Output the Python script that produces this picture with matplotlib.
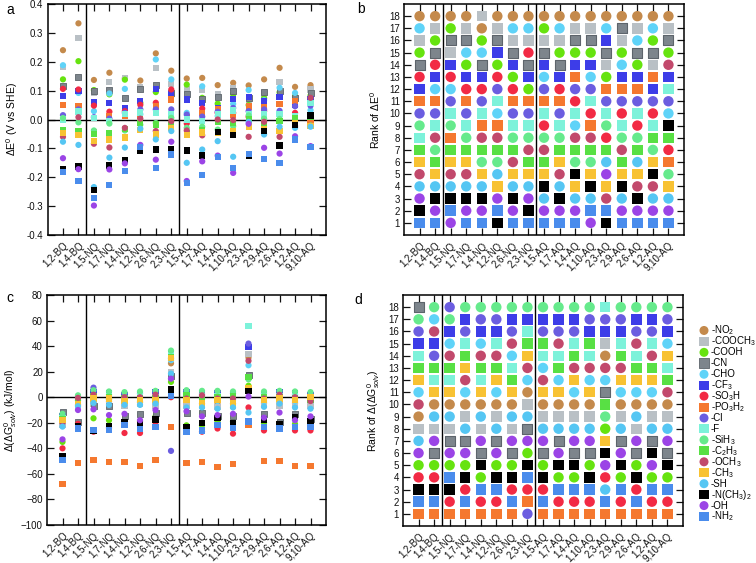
import matplotlib
matplotlib.use('Agg')
import matplotlib.pyplot as plt

plt.rcParams['font.family'] = ['Liberation Sans', 'DejaVu Sans']
plt.rcParams['mathtext.fontset'] = 'custom'
plt.rcParams['mathtext.rm'] = 'Liberation Sans'
plt.rcParams['mathtext.it'] = 'Liberation Sans:italic'
plt.rcParams['mathtext.bf'] = 'Liberation Sans:bold'

# ---------------- data ----------------
molecules = ['1,2-BQ', '1,4-BQ', '1,5-NQ', '1,7-NQ', '1,4-NQ', '1,2-NQ', '2,6-NQ', '2,3-NQ',
             '1,5-AQ', '1,7-AQ', '1,4-AQ', '1,10-AQ', '2,3-AQ', '2,9-AQ', '2,6-AQ', '1,2-AQ', '9,10-AQ']

subs = ['NO2', 'COOCH3', 'COOH', 'CN', 'CHO', 'CF3', 'SO3H', 'PO3H2', 'Cl', 'F',
        'SiH3', 'C2H3', 'OCH3', 'CH3', 'SH', 'NMe2', 'OH', 'NH2']
sub_labels = ['-NO$_2$', '-COOCH$_3$', '-COOH', '-CN', '-CHO', '-CF$_3$', '-SO$_3$H', '-PO$_3$H$_2$',
              '-Cl', '-F', '-SiH$_3$', '-C$_2$H$_3$', '-OCH$_3$', '-CH$_3$', '-SH', '-N(CH$_3$)$_2$',
              '-OH', '-NH$_2$']
sub_colors = ['#c48a4c', '#b9c0c5', '#66e30f', '#7d858c', '#5fd3f8', '#3d3de8', '#f22a44', '#f5782f',
              '#6b5de0', '#7df2da', '#66ea8c', '#58e044', '#c2496c', '#f8c233', '#55c6f3', '#000000',
              '#9b44e6', '#4a8cec']
sub_markers = ['o', 's'] * 9

# rank order (rank 1 -> rank 18) of substituents for each molecule, panel b (Delta E0)
rank_E = [
    ['NH2', 'NMe2', 'OH', 'SH', 'OCH3', 'CH3', 'C2H3', 'F', 'SiH3', 'Cl', 'PO3H2', 'CF3', 'SO3H', 'CN', 'COOH', 'COOCH3', 'CHO', 'NO2'],
    ['NH2', 'OH', 'NMe2', 'SH', 'CH3', 'C2H3', 'SiH3', 'OCH3', 'F', 'Cl', 'PO3H2', 'CHO', 'CF3', 'SO3H', 'CN', 'COOH', 'COOCH3', 'NO2'],
    ['OH', 'NH2', 'NMe2', 'SH', 'OCH3', 'CH3', 'C2H3', 'PO3H2', 'SiH3', 'F', 'Cl', 'CHO', 'SO3H', 'CF3', 'COOCH3', 'CN', 'COOH', 'NO2'],
    ['NH2', 'OH', 'NMe2', 'SH', 'OCH3', 'CH3', 'C2H3', 'SiH3', 'F', 'Cl', 'PO3H2', 'SO3H', 'CF3', 'COOH', 'CHO', 'CN', 'COOCH3', 'NO2'],
    ['NH2', 'OH', 'NMe2', 'SH', 'CH3', 'SiH3', 'C2H3', 'OCH3', 'PO3H2', 'F', 'Cl', 'SO3H', 'CF3', 'CN', 'CHO', 'COOH', 'NO2', 'COOCH3'],
    ['NMe2', 'NH2', 'OH', 'CH3', 'SH', 'SiH3', 'C2H3', 'OCH3', 'PO3H2', 'CHO', 'F', 'Cl', 'SO3H', 'COOH', 'CF3', 'CN', 'COOCH3', 'NO2'],
    ['NH2', 'OH', 'NMe2', 'SH', 'CH3', 'OCH3', 'C2H3', 'SiH3', 'F', 'Cl', 'PO3H2', 'SO3H', 'COOH', 'CF3', 'CN', 'COOCH3', 'CHO', 'NO2'],
    ['NH2', 'NMe2', 'OH', 'SH', 'CH3', 'C2H3', 'OCH3', 'SiH3', 'F', 'Cl', 'PO3H2', 'COOH', 'CF3', 'CN', 'SO3H', 'COOCH3', 'CHO', 'NO2'],
    ['NH2', 'OH', 'SH', 'NMe2', 'CH3', 'C2H3', 'OCH3', 'SiH3', 'SO3H', 'F', 'PO3H2', 'Cl', 'CHO', 'CF3', 'CN', 'COOCH3', 'COOH', 'NO2'],
    ['NH2', 'OH', 'NMe2', 'SH', 'OCH3', 'CH3', 'C2H3', 'SiH3', 'F', 'Cl', 'PO3H2', 'SO3H', 'CF3', 'CN', 'COOH', 'COOCH3', 'CHO', 'NO2'],
    ['NH2', 'OH', 'SH', 'CH3', 'NMe2', 'SiH3', 'C2H3', 'OCH3', 'CHO', 'F', 'SO3H', 'Cl', 'PO3H2', 'CF3', 'COOH', 'CN', 'COOCH3', 'NO2'],
    ['OH', 'NH2', 'SH', 'NMe2', 'CH3', 'SiH3', 'C2H3', 'OCH3', 'PO3H2', 'SO3H', 'F', 'Cl', 'CHO', 'CF3', 'COOH', 'CN', 'COOCH3', 'NO2'],
    ['NMe2', 'NH2', 'OCH3', 'CH3', 'OH', 'SH', 'C2H3', 'SO3H', 'SiH3', 'F', 'Cl', 'PO3H2', 'COOH', 'COOCH3', 'CN', 'CF3', 'CHO', 'NO2'],
    ['NH2', 'OH', 'SH', 'NMe2', 'CH3', 'C2H3', 'OCH3', 'SiH3', 'F', 'SO3H', 'Cl', 'PO3H2', 'CF3', 'CHO', 'COOH', 'COOCH3', 'CN', 'NO2'],
    ['NH2', 'OH', 'NMe2', 'OCH3', 'CH3', 'SH', 'C2H3', 'SiH3', 'SO3H', 'F', 'Cl', 'PO3H2', 'CF3', 'COOH', 'CN', 'CHO', 'COOCH3', 'NO2'],
    ['NH2', 'OH', 'SH', 'OCH3', 'NMe2', 'CH3', 'SiH3', 'C2H3', 'F', 'SO3H', 'Cl', 'CF3', 'PO3H2', 'COOCH3', 'CN', 'COOH', 'CHO', 'NO2'],
    ['NH2', 'OH', 'SH', 'CH3', 'SiH3', 'PO3H2', 'SO3H', 'C2H3', 'NMe2', 'CHO', 'Cl', 'F', 'CF3', 'OCH3', 'COOH', 'CN', 'COOCH3', 'NO2'],
]

# Delta E0 (V vs SHE), values in rank order (rank 1 -> rank 18) for each molecule
dE = [
    [-0.182, -0.172, -0.134, -0.077, -0.060, -0.048, -0.035, 0.000, 0.005, 0.015, 0.051, 0.081, 0.106, 0.116, 0.139, 0.181, 0.188, 0.240],
    [-0.212, -0.172, -0.163, -0.088, -0.055, -0.040, -0.010, 0.008, 0.028, 0.035, 0.048, 0.092, 0.100, 0.104, 0.147, 0.202, 0.283, 0.333],
    [-0.298, -0.272, -0.244, -0.234, -0.084, -0.075, -0.050, -0.044, -0.038, 0.004, 0.008, 0.029, 0.048, 0.061, 0.093, 0.097, 0.102, 0.137],
    [-0.227, -0.173, -0.159, -0.132, -0.097, -0.069, -0.048, -0.014, -0.006, 0.003, 0.012, 0.027, 0.058, 0.087, 0.090, 0.102, 0.129, 0.162],
    [-0.179, -0.152, -0.140, -0.097, -0.062, -0.038, -0.033, -0.029, 0.013, 0.018, 0.023, 0.029, 0.040, 0.075, 0.106, 0.138, 0.143, 0.145],
    [-0.110, -0.095, -0.088, -0.037, -0.032, -0.018, -0.012, 0.003, 0.012, 0.018, 0.024, 0.035, 0.051, 0.058, 0.064, 0.104, 0.113, 0.135],
    [-0.167, -0.139, -0.104, -0.069, -0.052, -0.040, -0.017, -0.012, 0.023, 0.035, 0.046, 0.058, 0.095, 0.106, 0.118, 0.177, 0.208, 0.229],
    [-0.121, -0.104, -0.077, -0.040, -0.029, -0.017, -0.006, 0.006, 0.017, 0.035, 0.069, 0.081, 0.089, 0.092, 0.104, 0.124, 0.139, 0.169],
    [-0.219, -0.213, -0.150, -0.107, -0.055, -0.046, -0.038, -0.029, -0.014, 0.000, 0.009, 0.017, 0.023, 0.069, 0.087, 0.104, 0.121, 0.142],
    [-0.192, -0.145, -0.125, -0.104, -0.055, -0.045, -0.035, -0.025, -0.005, 0.010, 0.023, 0.038, 0.057, 0.070, 0.075, 0.104, 0.115, 0.144],
    [-0.130, -0.125, -0.075, -0.047, -0.044, -0.035, -0.009, 0.000, 0.012, 0.017, 0.023, 0.027, 0.035, 0.040, 0.055, 0.079, 0.087, 0.119],
    [-0.185, -0.167, -0.129, -0.055, -0.040, -0.023, -0.012, -0.002, 0.017, 0.023, 0.031, 0.040, 0.054, 0.072, 0.087, 0.098, 0.110, 0.127],
    [-0.125, -0.120, -0.060, -0.024, -0.015, -0.008, 0.000, 0.009, 0.014, 0.020, 0.029, 0.045, 0.050, 0.069, 0.074, 0.077, 0.102, 0.118],
    [-0.136, -0.098, -0.052, -0.040, -0.032, -0.014, -0.008, 0.003, 0.017, 0.029, 0.035, 0.044, 0.064, 0.067, 0.074, 0.090, 0.095, 0.139],
    [-0.150, -0.118, -0.090, -0.060, -0.040, -0.025, -0.005, 0.002, 0.015, 0.020, 0.030, 0.055, 0.078, 0.094, 0.097, 0.110, 0.130, 0.179],
    [-0.069, -0.058, -0.029, -0.023, -0.020, -0.012, 0.000, 0.006, 0.012, 0.023, 0.046, 0.052, 0.064, 0.069, 0.075, 0.081, 0.092, 0.113],
    [-0.095, -0.092, -0.025, -0.023, -0.021, -0.002, 0.000, 0.009, 0.014, 0.032, 0.048, 0.058, 0.069, 0.075, 0.083, 0.092, 0.104, 0.119],
]

# rank order (rank 1 -> rank 18) for panel d (Delta(Delta G0_solv))
rank_G = [
    ['PO3H2', 'NH2', 'NMe2', 'SO3H', 'COOH', 'OH', 'SH', 'COOCH3', 'NO2', 'OCH3', 'CHO', 'CH3', 'C2H3', 'F', 'CF3', 'Cl', 'SiH3', 'CN'],
    ['PO3H2', 'NH2', 'NMe2', 'SO3H', 'COOH', 'CN', 'OH', 'COOCH3', 'SH', 'NO2', 'CH3', 'F', 'C2H3', 'Cl', 'CF3', 'OCH3', 'CHO', 'SiH3'],
    ['PO3H2', 'SO3H', 'NMe2', 'NH2', 'COOH', 'OH', 'CN', 'COOCH3', 'SH', 'NO2', 'CH3', 'F', 'C2H3', 'OCH3', 'CHO', 'CF3', 'SiH3', 'Cl'],
    ['PO3H2', 'NH2', 'SO3H', 'NMe2', 'COOH', 'OH', 'CN', 'SH', 'COOCH3', 'NO2', 'CHO', 'OCH3', 'CH3', 'C2H3', 'F', 'Cl', 'CF3', 'SiH3'],
    ['PO3H2', 'SO3H', 'NH2', 'COOH', 'NMe2', 'CN', 'OH', 'COOCH3', 'SH', 'NO2', 'CH3', 'F', 'C2H3', 'OCH3', 'CHO', 'CF3', 'Cl', 'SiH3'],
    ['PO3H2', 'SO3H', 'NH2', 'NMe2', 'COOH', 'OH', 'CN', 'SH', 'COOCH3', 'NO2', 'CHO', 'CH3', 'C2H3', 'OCH3', 'F', 'CF3', 'Cl', 'SiH3'],
    ['PO3H2', 'NH2', 'SO3H', 'NMe2', 'COOH', 'CN', 'OH', 'COOCH3', 'SH', 'NO2', 'CH3', 'C2H3', 'F', 'CHO', 'OCH3', 'Cl', 'CF3', 'SiH3'],
    ['Cl', 'PO3H2', 'SO3H', 'NH2', 'NMe2', 'COOH', 'OH', 'CN', 'SH', 'COOCH3', 'NO2', 'CHO', 'OCH3', 'CH3', 'C2H3', 'F', 'CF3', 'SiH3'],
    ['PO3H2', 'NH2', 'SO3H', 'NMe2', 'COOH', 'CN', 'OH', 'SH', 'COOCH3', 'NO2', 'CH3', 'OCH3', 'CHO', 'F', 'C2H3', 'Cl', 'CF3', 'SiH3'],
    ['PO3H2', 'SO3H', 'NH2', 'COOH', 'NMe2', 'OH', 'CN', 'SH', 'COOCH3', 'NO2', 'CH3', 'CHO', 'C2H3', 'F', 'OCH3', 'Cl', 'CF3', 'SiH3'],
    ['PO3H2', 'SO3H', 'NH2', 'COOH', 'NMe2', 'CN', 'OH', 'SH', 'COOCH3', 'NO2', 'CHO', 'CH3', 'OCH3', 'C2H3', 'F', 'Cl', 'CF3', 'SiH3'],
    ['PO3H2', 'SO3H', 'NH2', 'NMe2', 'COOH', 'CN', 'OH', 'SH', 'COOCH3', 'NO2', 'CH3', 'CHO', 'OCH3', 'F', 'C2H3', 'CF3', 'Cl', 'SiH3'],
    ['PO3H2', 'NH2', 'SH', 'SO3H', 'OH', 'NMe2', 'CH3', 'COOH', 'SiH3', 'C2H3', 'CN', 'CHO', 'OCH3', 'NO2', 'COOCH3', 'CF3', 'Cl', 'F'],
    ['PO3H2', 'SO3H', 'NH2', 'COOH', 'NMe2', 'OH', 'CN', 'SH', 'COOCH3', 'NO2', 'CHO', 'CH3', 'OCH3', 'C2H3', 'F', 'CF3', 'Cl', 'SiH3'],
    ['PO3H2', 'NH2', 'SO3H', 'NMe2', 'COOH', 'CN', 'OH', 'COOCH3', 'SH', 'NO2', 'CHO', 'CH3', 'C2H3', 'F', 'OCH3', 'Cl', 'CF3', 'SiH3'],
    ['PO3H2', 'SO3H', 'NH2', 'COOH', 'OH', 'NMe2', 'CN', 'SH', 'COOCH3', 'NO2', 'CHO', 'CH3', 'C2H3', 'OCH3', 'F', 'Cl', 'CF3', 'SiH3'],
    ['PO3H2', 'SO3H', 'NH2', 'COOH', 'NMe2', 'CN', 'OH', 'SH', 'COOCH3', 'NO2', 'OCH3', 'C2H3', 'F', 'CH3', 'CHO', 'CF3', 'Cl', 'SiH3'],
]

# Delta(Delta G0_solv) (kJ/mol), values in rank order (rank 1 -> rank 18)
dG = [
    [-68, -49, -46, -40, -35, -33, -23, -22, -21, -20, -19, -18, -17, -16, -15, -14, -13, -11.5],
    [-51.5, -24.5, -22.5, -20.8, -20.2, -19.5, -10, -8, -7, -6, -5, -4, -3.5, -2.5, -1.5, -0.5, 0.5, 1.5],
    [-49, -27, -26, -25.5, -16.5, -9.5, -7, -5.5, -4.5, -3.5, -1, 0, 1, 2, 3, 4, 5.5, 7.5],
    [-50.5, -25.5, -24, -22.5, -18, -14, -7, -6, -5, -3.5, -2, -1.5, -1, 0, 1, 2, 3, 4.5],
    [-51, -28, -22, -20.5, -19.5, -15, -13, -7, -6, -4.5, -3, -2, -1, 0, 1, 2, 3, 4],
    [-54, -28, -25, -21, -19, -18, -13, -6, -5, -4, -3, -2, -1, 0, 1, 2, 3, 4.5],
    [-49, -23, -21.5, -17.5, -15, -12, -10, -7, -5, -3, -2, -1, 0, 1, 2, 3, 4, 5],
    [-42, -23.5, 0, 1, 6, 12, 14.5, 17, 18.5, 20, 26.5, 29, 30.5, 31, 31.5, 33, 34, 36.5],
    [-51.5, -27, -25.5, -23, -22, -12.5, -11, -8, -7, -5, -2, -1, 0, 1, 2, 3, 4, 5.5],
    [-51, -27, -26, -22, -20, -15, -12, -8, -7, -5, -4.5, -1.5, -0.5, 0.5, 1.5, 2.5, 3.5, 5],
    [-54.5, -24.5, -22, -19, -16.5, -15, -14, -9, -7.5, -4.5, -3, -2, -1, 0, 1, 2.5, 3.5, 5],
    [-52, -28.5, -24, -20.5, -19, -15, -13, -8, -7, -5, -4.5, -2, -1, 0, 1, 2, 3, 4.5],
    [-21.5, -19, -12, -8, 0.5, 5, 7, 9, 14, 16, 17.5, 25, 28.5, 31, 34, 39, 42, 55.5],
    [-50, -26, -23, -20, -17.5, -16, -13, -7.5, -6, -4.5, -3, -2, -1, 0, 1, 2, 3, 4.5],
    [-50, -24.5, -23, -21, -20, -19, -12, -7, -5, -4, -2, -1, 0, 1, 2, 3, 4, 5],
    [-54, -26, -23, -21, -18, -15.5, -13.5, -8, -6, -4.5, -3, -2, -1, 0, 1, 2, 3, 4.5],
    [-54, -26, -23, -21, -19, -17, -15, -9, -7, -5.5, -3, -2, -1, 0, 1, 2, 3, 4],
]

for r in rank_E + rank_G:
    assert sorted(r) == sorted(subs), r

# ---------------- figure ----------------
W, H = 756, 563
fig = plt.figure(figsize=(W / 100, H / 100), dpi=100)


def px_axes(l, t, r, b):
    return fig.add_axes([l / W, 1 - b / H, (r - l) / W, (b - t) / H])


axA = px_axes(47.5, 4, 326, 235)
axB = px_axes(404, 4, 684, 235)
axC = px_axes(47, 295, 326, 525)
axD = px_axes(403, 295, 683, 526)

xs = list(range(1, len(molecules) + 1))


def style_axes(ax):
    ax.set_xlim(0, len(molecules) + 1)
    ax.set_xticks(xs)
    ax.set_xticklabels(molecules, rotation=45, ha='right', rotation_mode='anchor', fontsize=7)
    ax.tick_params(axis='both', direction='in', top=True, right=True, length=5, width=0.9,
                   labelsize=7, colors='#111111', pad=3)
    ax.tick_params(axis='x', pad=4)
    for sp in ax.spines.values():
        sp.set_linewidth(1.1)
    for xv in (2.5, 8.5):
        ax.axvline(xv, color='black', lw=1.0, zorder=1)


def edge_for(s):
    return '#5d646b' if s == 'CN' else 'none'


def scatter_values(ax, ranks, values, size):
    for si, s in enumerate(subs):
        px, py = [], []
        for j in range(len(molecules)):
            k = ranks[j].index(s)
            px.append(xs[j])
            py.append(values[j][k])
        ax.scatter(px, py, s=size, c=sub_colors[si], marker=sub_markers[si],
                   edgecolors=edge_for(s), linewidths=0.6, zorder=3)


def scatter_ranks(ax, ranks, size):
    for si, s in enumerate(subs):
        px, py = [], []
        for j in range(len(molecules)):
            px.append(xs[j])
            py.append(ranks[j].index(s) + 1)
        ax.scatter(px, py, s=size, c=sub_colors[si], marker=sub_markers[si],
                   edgecolors=edge_for(s), linewidths=0.8, zorder=3)


# Panel a
style_axes(axA)
axA.axhline(0, color='black', lw=1.0, zorder=2)
scatter_values(axA, rank_E, dE, 20)
axA.set_ylim(-0.4, 0.4)
axA.set_yticks([-0.4, -0.3, -0.2, -0.1, 0.0, 0.1, 0.2, 0.3, 0.4])
axA.set_yticklabels(['-0.4', '-0.3', '-0.2', '-0.1', '0.0', '0.1', '0.2', '0.3', '0.4'])
axA.set_ylabel('ΔE$^0$ (V vs SHE)', fontsize=7.5)
axA.yaxis.set_label_coords(-0.1, 0.5)

# Panel b
style_axes(axB)
scatter_ranks(axB, rank_E, 56)
axB.set_ylim(0, 19)
axB.set_yticks(range(1, 19))
axB.set_ylabel('Rank of ΔE$^0$', fontsize=7.5)
axB.yaxis.set_label_coords(-0.08, 0.5)

# Panel c
style_axes(axC)
axC.axhline(0, color='black', lw=1.0, zorder=2)
scatter_values(axC, rank_G, dG, 20)
axC.set_ylim(-100, 80)
axC.set_yticks(range(-100, 81, 20))
axC.set_ylabel('Δ(ΔG$^0_{solv}$) (kJ/mol)', fontsize=7.5)
axC.yaxis.set_label_coords(-0.1, 0.5)

# Panel d
style_axes(axD)
scatter_ranks(axD, rank_G, 56)
axD.set_ylim(0, 19)
axD.set_yticks(range(1, 19))
axD.set_ylabel('Rank of Δ(ΔG$^0_{solv}$)', fontsize=7.5)
axD.yaxis.set_label_coords(-0.075, 0.5)

# Legend (compact key in its own axes)
axL = px_axes(695, 325, 756, 522)
axL.set_axis_off()
axL.set_xlim(0, 61)
axL.set_ylim(len(subs) - 0.5, -0.5)
for i, s in enumerate(subs):
    axL.scatter([9], [i], s=42, c=sub_colors[i], marker=sub_markers[i],
                edgecolors=edge_for(s), linewidths=0.6, clip_on=False)
    axL.text(16, i, sub_labels[i], fontsize=7, va='center', ha='left')

# Panel letters
fig.text(6 / W, 1 - 10 / H, 'a', fontsize=10, va='center', ha='left')
fig.text(357 / W, 1 - 9 / H, 'b', fontsize=10, va='center', ha='left')
fig.text(6 / W, 1 - 298 / H, 'c', fontsize=10, va='center', ha='left')
fig.text(354 / W, 1 - 300 / H, 'd', fontsize=10, va='center', ha='left')

fig.savefig('out.png', dpi=100)
